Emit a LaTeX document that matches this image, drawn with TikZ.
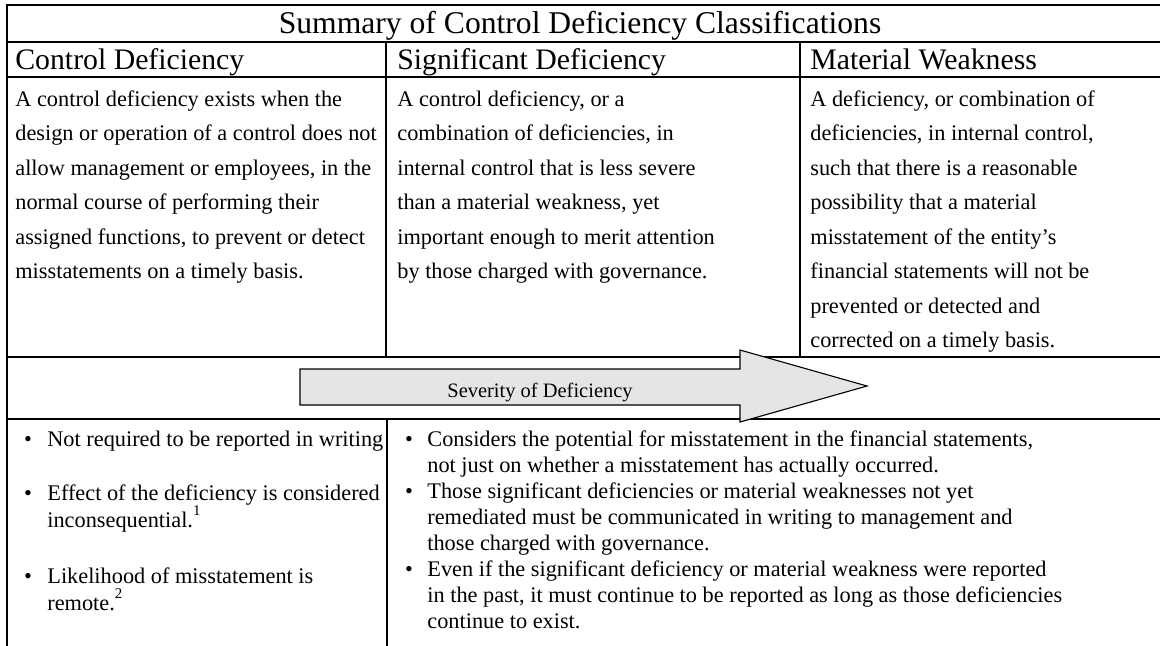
\documentclass[tikz,border=0pt]{standalone}
\usepackage{fontspec}
\setmainfont{Liberation Serif}
\begin{document}
\begin{tikzpicture}[x=0.5376pt,y=-0.5376pt]
\tikzset{
  gridline/.style={line width=1.1pt, line cap=rect},
  ttl/.style={font=\fontsize{17}{20}\selectfont, inner sep=0pt, anchor=base},
  hdr/.style={font=\fontsize{16}{19}\selectfont, inner sep=0pt, anchor=base west},
  bodytxt/.style={font=\fontsize{12}{14}\selectfont, inner sep=0pt, anchor=base west},
  bul/.style={font=\fontsize{12}{14}\selectfont, inner sep=0pt, anchor=base},
  sevarrow/.style={draw=black, line width=0.6pt, fill=black!10},
  sevlabel/.style={font=\fontsize{11}{13}\selectfont, inner sep=0pt, anchor=base},
}
\newcommand{\fnmark}[1]{\raisebox{0.5em}{\fontsize{8}{8}\selectfont #1}}
\useasboundingbox (0,0) rectangle (1160,645);
\fill[white] (0,0) rectangle (1160,645);

% table rules
\draw[gridline] (7,5) -- (1162,5);
\draw[gridline] (7,42) -- (1162,42);
\draw[gridline] (7,77) -- (1162,77);
\draw[gridline] (7,357) -- (1162,357);
\draw[gridline] (7,419) -- (1162,419);
\draw[gridline] (7,5) -- (7,647);
\draw[gridline] (386,42) -- (386,357);
\draw[gridline] (800,42) -- (800,357);
\draw[gridline] (387,419) -- (387,647);

% title and headers
\node[ttl] (title) at (580,33) {Summary of Control Deficiency Classifications};
\node[hdr] (h1) at (15,69) {Control Deficiency};
\node[hdr] (h2) at (397,69) {Significant Deficiency};
\node[hdr] (h3) at (810,69) {Material Weakness};

% body texts
\foreach \t [count=\i from 0] in {{A control deficiency exists when the},
  {design or operation of a control does not},
  {allow management or employees, in the},
  {normal course of performing their},
  {assigned functions, to prevent or detect},
  {misstatements on a timely basis.}}
  \node[bodytxt] (a\i) at (15,106+34.5*\i) {\t};

\foreach \t [count=\i from 0] in {{A control deficiency, or a},
  {combination of deficiencies, in},
  {internal control that is less severe},
  {than a material weakness, yet},
  {important enough to merit attention},
  {by those charged with governance.}}
  \node[bodytxt] (b\i) at (397,106+34.5*\i) {\t};

\foreach \t [count=\i from 0] in {{A deficiency, or combination of},
  {deficiencies, in internal control,},
  {such that there is a reasonable},
  {possibility that a material},
  {misstatement of the entity’s},
  {financial statements will not be},
  {prevented or detected and},
  {corrected on a timely basis.}}
  \node[bodytxt] (c\i) at (810,106+34.5*\i) {\t};

% severity arrow
\draw[sevarrow] (300,369) -- (740,369) -- (740,350) -- (867,386)
  -- (740,422) -- (740,405) -- (300,405) -- cycle;
\node[sevlabel] (sev) at (540,397) {Severity of Deficiency};

% bottom left bullets
\node[bul] (d1b) at (28,446) {•};
\node[bodytxt] (d1) at (47,446) {Not required to be reported in writing};
\node[bul] (d2b) at (28,500) {•};
\node[bodytxt] (d2) at (47,500) {Effect of the deficiency is considered};
\node[bodytxt] (d2c) at (47,527) {inconsequential.\fnmark{1}};
\node[bul] (d3b) at (28,583) {•};
\node[bodytxt] (d3) at (47,583) {Likelihood of misstatement is};
\node[bodytxt] (d3c) at (47,610) {remote.\fnmark{2}};

% bottom right bullets
\foreach \y in {446,498,576}
  \node[bul] at (409,\y) {•};
\foreach \t [count=\i from 0] in {{Considers the potential for misstatement in the financial statements,},
  {not just on whether a misstatement has actually occurred.},
  {Those significant deficiencies or material weaknesses not yet},
  {remediated must be communicated in writing to management and},
  {those charged with governance.},
  {Even if the significant deficiency or material weakness were reported},
  {in the past, it must continue to be reported as long as those deficiencies},
  {continue to exist.}}
  \node[bodytxt] (e\i) at (427,446+26*\i) {\t};
\end{tikzpicture}
\end{document}
